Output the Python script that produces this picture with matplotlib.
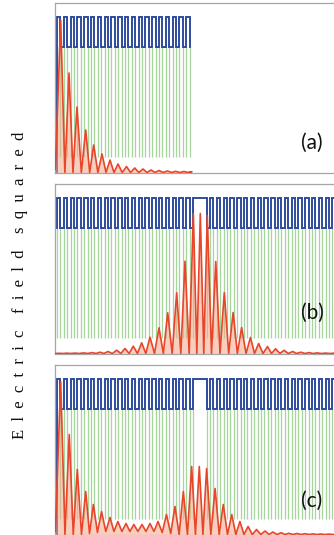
import numpy as np
import matplotlib
matplotlib.use("Agg")
import matplotlib.pyplot as plt

# ---------------- data ----------------
# structure (units: layer thickness)
n_periods = 20
defect_width = 4.0
square_low = 1.26
square_high = 1.56
green_bottom = 0.16

# panel (a): red |E|^2 peaks (position, height) and troughs
a_peak_x = [1.09, 3.53, 5.88, 8.44, 10.79, 13.24, 15.59, 17.94, 20.44, 22.85,
            25.29, 27.65, 30.0, 32.5, 34.9, 37.35, 39.7]
a_peak_y = [1.525, 0.995, 0.655, 0.425, 0.275, 0.185, 0.125, 0.085, 0.06, 0.045,
            0.035, 0.025, 0.02, 0.015, 0.012, 0.01, 0.008]
a_trough_y = [0.0] * 17

# panel (b)
b_peak_x = [0.6, 2.9, 5.3, 7.8, 10.3, 12.65, 15.0, 17.56, 20.0, 22.44, 24.9, 27.35,
            30.0, 32.56, 35.2, 37.65, 40.1, 42.15, 44.2, 46.7, 49.2, 51.8, 54.3,
            56.9, 59.3, 61.9, 64.3, 66.8, 69.3, 71.7, 74.1, 76.5, 79.0, 81.4, 83.7]
b_peak_y = [0.002, 0.003, 0.004, 0.006, 0.009, 0.013, 0.02, 0.033, 0.05, 0.073,
            0.107, 0.163, 0.257, 0.407, 0.607, 0.923, 1.397, 1.40, 1.38, 0.92,
            0.61, 0.41, 0.26, 0.16, 0.10, 0.07, 0.048, 0.032, 0.02, 0.013, 0.009,
            0.006, 0.004, 0.003, 0.002]
b_trough_y = [0.0] * 35

# panel (c)
c_peak_x = [1.09, 3.6, 5.97, 8.44, 10.7, 13.1, 15.6, 17.9, 20.3, 22.6, 25.0, 27.35,
            29.7, 32.2, 34.7, 37.15, 39.6, 41.85, 44.0, 46.5, 48.9, 51.4, 53.8,
            56.2, 58.7, 61.2, 63.5, 65.9, 68.2, 70.6, 73.0, 75.3, 77.6, 80.0, 82.4]
c_peak_y = [1.53, 1.0, 0.65, 0.43, 0.30, 0.23, 0.17, 0.13, 0.11, 0.10, 0.10, 0.11,
            0.13, 0.20, 0.28, 0.43, 0.68, 0.68, 0.66, 0.46, 0.30, 0.20, 0.13, 0.08,
            0.05, 0.035, 0.025, 0.018, 0.012, 0.01, 0.008, 0.006, 0.005, 0.004, 0.003]
c_trough_y = [0.0, 0.0, 0.0, 0.01, 0.02, 0.03, 0.03, 0.03, 0.03, 0.03, 0.03, 0.03,
              0.02, 0.01, 0.0, 0.0, 0.0, 0.0, 0.0, 0.0, 0.0, 0.0, 0.0, 0.0, 0.0,
              0.0, 0.0, 0.0, 0.0, 0.0, 0.0, 0.0, 0.0, 0.0, 0.0]

labels = ["(a)", "(b)", "(c)"]
ylabel = "E  l  e  c  t  r  i  c    f  i  e  l  d    s  q  u  a  r  e  d"

# ---------------- style ----------------
BLUE = "#2E4C9E"
RED = "#E8462A"
FILL = "#F4A98C"
GREEN = "#A6D69C"
SPINE = "#A6A6A6"

W, H = 334, 535
fig = plt.figure(figsize=(W / 100, H / 100), dpi=100)

px_per_layer = 3.4
ax_left_px = 55
ax_right_px = 352
panel_h_px = 170
panel_tops = [3, 184, 365]
x0 = -2.0 / px_per_layer
x1 = x0 + (ax_right_px - ax_left_px) / px_per_layer


def boundaries(with_defect):
    b = list(np.arange(0, 2 * n_periods + 1, 1.0))
    if with_defect:
        start = 2 * n_periods + defect_width
        b += list(start + np.arange(0, 2 * n_periods + 1, 1.0))
    return b


def square_path(with_defect, from_zero):
    xs, ys = [], []
    segs = []
    pos = 0.0
    for i in range(2 * n_periods):
        segs.append((pos, pos + 1, square_high if i % 2 == 0 else square_low))
        pos += 1
    if with_defect:
        segs.append((pos, pos + defect_width, square_high))
        pos += defect_width
        for i in range(2 * n_periods):
            segs.append((pos, pos + 1, square_low if i % 2 == 0 else square_high))
            pos += 1
    else:
        segs = segs[:-1]
    start_level = 0.0 if from_zero else square_low
    xs.append(0.0); ys.append(start_level)
    for (s, e, l) in segs:
        xs += [s, e]; ys += [l, l]
    xs.append(segs[-1][1]); ys.append(square_low)
    return xs, ys


def red_curve(px, py, ty, x_start, y_start, x_end, y_end):
    xs = [x_start]; ys = [y_start]
    for i in range(len(px)):
        xs.append(px[i]); ys.append(py[i])
        if i < len(px) - 1:
            xs.append(0.5 * (px[i] + px[i + 1])); ys.append(ty[i])
    xs.append(x_end); ys.append(y_end)
    return np.array(xs), np.array(ys)


panels = [
    (a_peak_x, a_peak_y, a_trough_y, False, True),
    (b_peak_x, b_peak_y, b_trough_y, True, False),
    (c_peak_x, c_peak_y, c_trough_y, True, True),
]
label_y = [0.30, 0.41, 0.34]

for k, (pxs, pys, tys, defect, from_zero) in enumerate(panels):
    top = panel_tops[k]
    ax = fig.add_axes([ax_left_px / W, 1 - (top + panel_h_px) / H,
                       (ax_right_px - ax_left_px) / W, panel_h_px / H])
    ax.set_xlim(x0, x1)
    ax.set_ylim(-0.005, 1.695)
    for s in ax.spines.values():
        s.set_color(SPINE)
        s.set_linewidth(0.9)
    ax.set_xticks([]); ax.set_yticks([])

    bnds = boundaries(defect)
    if not defect:
        bnds = bnds[:-1]
    ax.vlines(bnds, green_bottom, square_low, color=GREEN, lw=0.9, zorder=1)

    sx, sy = square_path(defect, from_zero)
    ax.plot(sx, sy, color=BLUE, lw=1.4, zorder=2, solid_joinstyle="miter")

    rx, ry = red_curve(pxs, pys, tys, x0 + 0.1, 0.03 if from_zero else 0.0,
                       (2 * n_periods - 1) if not defect else x1, 0.0)
    ax.fill_between(rx, 0, ry, color=FILL, alpha=0.55, lw=0, zorder=3)
    ax.plot(rx, ry, color=RED, lw=1.2, zorder=4)

    ax.text(75.0, label_y[k], labels[k], fontsize=15, family=["Lato", "DejaVu Sans"],
            ha="center", va="center", color="#111111")

fig.text(20 / W, 1 - 285 / H, ylabel, rotation=90, ha="center", va="center",
         fontsize=12, family=["Liberation Serif", "DejaVu Serif"], color="#111111")

fig.savefig("out.png", dpi=100)
